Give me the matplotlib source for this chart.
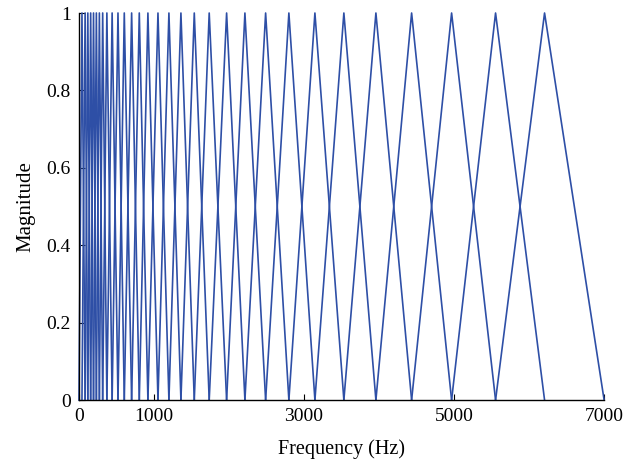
import matplotlib
matplotlib.use('Agg')
import matplotlib.pyplot as plt

# filter edge / centre frequencies (Hz)
edges_hz = [0, 40, 82, 118, 156, 194, 232, 272, 316, 372, 442, 520, 604,
            702, 804, 919, 1053, 1199, 1359, 1537, 1736, 1968, 2212, 2488,
            2798, 3145, 3531, 3958, 4434, 4967, 5553, 6206, 7000]
peak_level = 1.0

x_ticks = [0, 1000, 3000, 5000, 7000]
y_ticks = [0, 0.2, 0.4, 0.6, 0.8, 1]
y_tick_labels = ['0', '0.2', '0.4', '0.6', '0.8', '1']

line_color = '#2e4fa6'

plt.rcParams['font.family'] = ['Liberation Serif', 'DejaVu Serif']

fig = plt.figure(figsize=(6.42, 4.66), dpi=100)
ax = fig.add_axes([0.123, 0.1416, 0.818, 0.8305])

for i in range(1, len(edges_hz) - 1):
    ax.plot([edges_hz[i - 1], edges_hz[i], edges_hz[i + 1]],
            [0, peak_level, 0], color=line_color, lw=1.2, clip_on=False)

ax.set_xlim(0, 7000)
ax.set_ylim(0, 1)
ax.set_xticks(x_ticks)
ax.set_xticklabels([str(t) for t in x_ticks])
ax.set_yticks(y_ticks)
ax.set_yticklabels(y_tick_labels)
ax.tick_params(direction='in', length=4, width=0.8, labelsize=14, pad=6)

ax.spines['top'].set_visible(False)
ax.spines['right'].set_visible(False)
ax.spines['left'].set_linewidth(1.0)
ax.spines['bottom'].set_linewidth(1.0)

ax.set_xlabel('Frequency (Hz)', fontsize=14.5, labelpad=10)
ax.set_ylabel('Magnitude', fontsize=15, labelpad=8)

fig.savefig('out.png', dpi=100)
